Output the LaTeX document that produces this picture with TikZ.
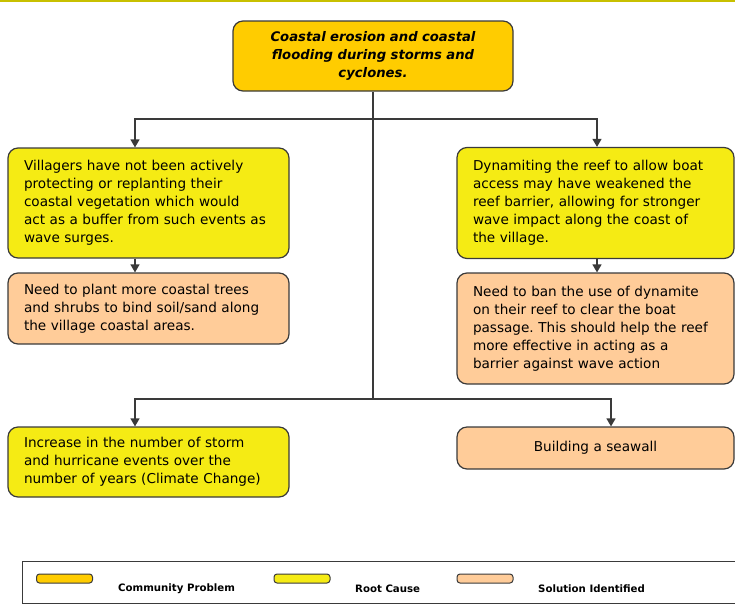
\documentclass[tikz,border=0pt]{standalone}
\usepackage{fontspec}
\setmainfont{DejaVu Sans}
\usetikzlibrary{arrows.meta}
\definecolor{problem}{HTML}{FFCC00}
\definecolor{cause}{HTML}{F5EB14}
\definecolor{solution}{HTML}{FFCC99}
\definecolor{edge}{HTML}{3A3A3A}
\definecolor{topline}{HTML}{C8C000}
\frenchspacing
\begin{document}
\begin{tikzpicture}[x=1pt, y=-1pt,
  box/.style = {draw = edge, line width = 1.2pt, rounded corners = 10pt,
    inner xsep = 16pt, inner ysep = 0pt, align = left,
    font = \fontsize{13.6}{18}\selectfont},
  keybox/.style = {draw = edge, line width = 1pt, rounded corners = 3pt,
    minimum width = 56pt, minimum height = 9pt, inner sep = 0pt},
  keytext/.style = {anchor = west, inner sep = 0pt,
    font = \fontsize{10.2}{12}\bfseries\selectfont},
  arr/.style = {draw = edge, line width = 1.3pt, -{Triangle[width = 9pt, length = 8pt]}},
  link/.style = {draw = edge, line width = 1.3pt}]
\useasboundingbox (0,0) rectangle (735,605);
\draw[topline, line width = 2pt] (0,1) -- (735,1);
% problem
\node[box, fill = problem, align = center, text width = 248pt, minimum height = 70pt,
  font = \fontsize{13.2}{18}\bfseries\itshape\selectfont] (prob) at (373,56)
{Coastal erosion and coastal\\ flooding during storms and\\ cyclones.};
% root causes and solutions
\node[box, fill = cause, text width = 249pt, minimum height = 110pt] (cause1) at (148.5,203)
{Villagers have not been actively\\ protecting or replanting their\\ coastal vegetation which would\\ act as a buffer from such events as\\ wave surges.};
\node[box, fill = solution, text width = 249pt, minimum height = 71pt] (sol1) at (148.5,308.5)
{Need to plant more coastal trees\\ and shrubs to bind soil/sand along\\ the village coastal areas.};
\node[box, fill = cause, text width = 245pt, minimum height = 111pt] (cause2) at (595.5,203)
{Dynamiting the reef to allow boat\\ access may have weakened the\\ reef barrier, allowing for stronger\\ wave impact along the coast of\\ the village.};
\node[box, fill = solution, text width = 245pt, minimum height = 111pt] (sol2) at (595.5,328.5)
{Need to ban the use of dynamite\\ on their reef to clear the boat\\ passage. This should help the reef\\ more effective in acting as a\\ barrier against wave action};
\node[box, fill = cause, text width = 249pt, minimum height = 70pt] (cause3) at (148.5,462)
{Increase in the number of storm\\ and hurricane events over the\\ number of years (Climate Change)};
\node[box, fill = solution, align = center, text width = 245pt, minimum height = 42pt] (sol3) at (595.5,448)
{Building a seawall};
% connectors
\coordinate (j1) at (373,119);
\coordinate (j2) at (373,399);
\draw[link] (prob.south) -- (j2);
\draw[arr] (j1) -| ([xshift = -13.5]cause1.north);
\draw[arr] (j1) -| ([xshift = 1.5]cause2.north);
\draw[arr] ([xshift = -13.5]cause1.south) -- ([xshift = -13.5]sol1.north);
\draw[arr] ([xshift = 1.5]cause2.south) -- ([xshift = 1.5]sol2.north);
\draw[arr] (j2) -| ([xshift = -13.5]cause3.north);
\draw[arr] (j2) -| ([xshift = 15.5]sol3.north);
% legend
\draw[edge, line width = 1pt] (736,561) -- (22,561) -- (22,603) -- (736,603);
\node[keybox, fill = problem] (keyprob) at (64.5,578.5) {};
\node[keybox, fill = cause] (keycause) at (302,578.5) {};
\node[keybox, fill = solution] (keysol) at (485,578.5) {};
\node[keytext] (keyprobtext) at (118,589) {Community Problem};
\node[keytext] (keycausetext) at (355,589) {Root Cause};
\node[keytext] (keysoltext) at (538,589) {Solution Identified};
\end{tikzpicture}
\end{document}
